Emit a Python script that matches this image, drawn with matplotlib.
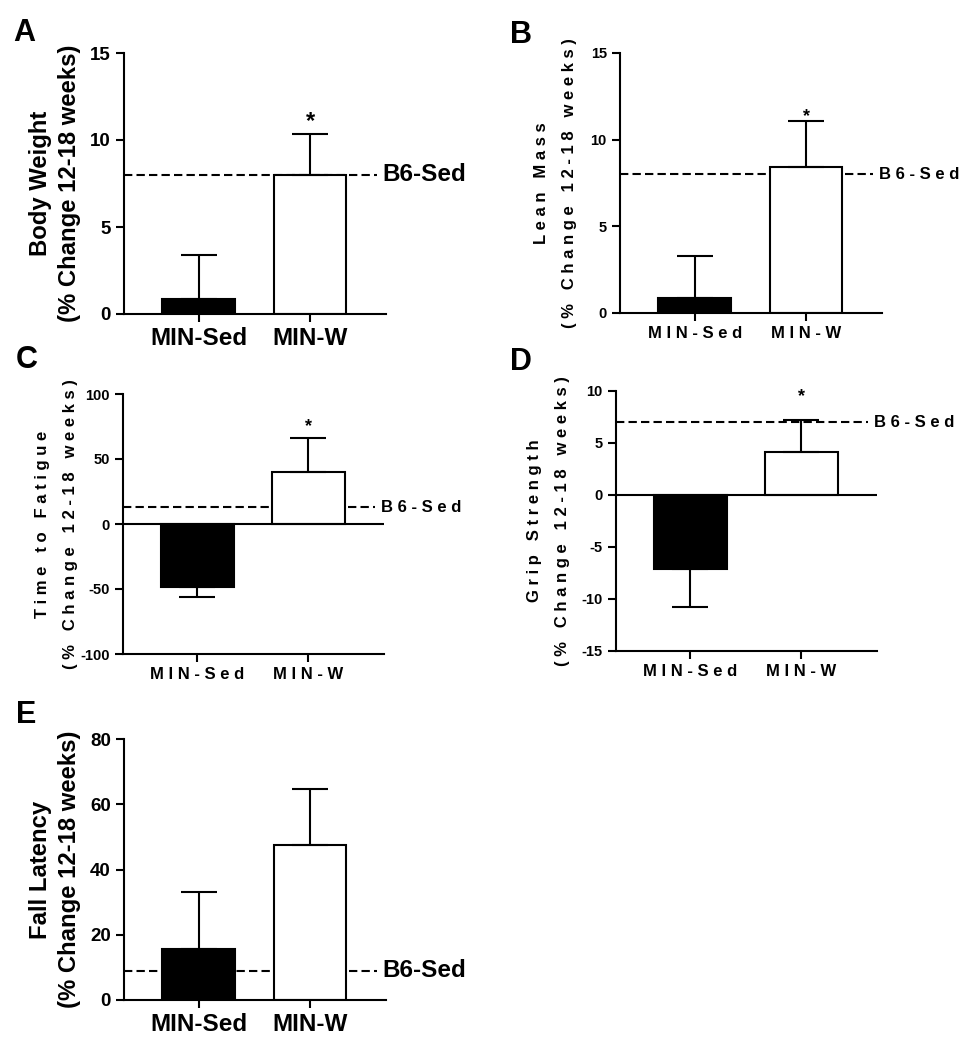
"""Figure 5 panneaux : variation (%) entre 12 et 18 semaines, MIN-Sed vs MIN-W."""

import matplotlib
matplotlib.use("Agg")
import matplotlib.pyplot as plt
import numpy as np

plt.rcParams["font.family"] = ["Liberation Sans", "DejaVu Sans"]
plt.rcParams["font.weight"] = "bold"
plt.rcParams["axes.labelweight"] = "bold"

# Données
groupes = ["MIN-Sed", "MIN-W"]

poids_moy = [0.86, 8.0]
poids_sem = [2.55, 2.35]

masse_maigre_moy = [0.87, 8.42]
masse_maigre_sem = [2.43, 2.68]

fatigue_moy = [-48.5, 40.0]
fatigue_sem = [7.5, 26.0]

prehension_moy = [-7.1, 4.1]
prehension_sem = [3.7, 3.1]

chute_moy = [15.6, 47.5]
chute_sem = [17.6, 17.2]

# Valeur de référence B6-Sed pour chaque panneau (A..E)
b6_sed = [8.0, 8.0, 13.0, 7.0, 9.0]

LARGEUR = 977
HAUTEUR = 1050


def espacer(texte):
    """Imite l'espacement large des lettres des panneaux B, C et D."""
    return " ".join(texte)


def tracer_panneau(fig, px, lettre, lettre_px, moy, sem, ref, ylim, yticks,
                   ylabel, etoile=None, espace=False, zero=False,
                   taille_x=17.5, taille_y=13.5, taille_label=17.2,
                   interligne=1.35, taille_etoile=17, decal_etoile=0,
                   label_x=-0.17):
    gauche, droite, haut, bas = px
    ax = fig.add_axes([gauche / LARGEUR, 1 - bas / HAUTEUR,
                       (droite - gauche) / LARGEUR, (bas - haut) / HAUTEUR])
    fmt = espacer if espace else (lambda t: t)

    x = np.arange(len(groupes))
    moy = np.array(moy)
    sem = np.array(sem)
    xlim = (-0.67, 1.68)

    # ligne de référence B6-Sed, sous les barres
    ax.plot([xlim[0], 1.6], [ref, ref], color="black", lw=1.5,
            ls=(0, (4, 2)), zorder=1, clip_on=False)
    ax.bar(x, moy, width=0.65, color=["black", "white"], edgecolor="black",
           linewidth=1.5, zorder=2)
    # erreur d'un seul côté, dans le sens de la barre
    bas_err = np.where(moy < 0, sem, 0)
    haut_err = np.where(moy >= 0, sem, 0)
    ax.errorbar(x, moy, yerr=[bas_err, haut_err], fmt="none", ecolor="black",
                elinewidth=1.5, capsize=13, capthick=1.5, zorder=3)
    if zero:
        ax.axhline(0, color="black", lw=1.5, zorder=3)

    ax.text(1.65, ref, fmt("B6-Sed"), ha="left", va="center",
            fontsize=taille_x, fontweight="bold", clip_on=False)

    if etoile is not None:
        ax.annotate("*", xy=(x[etoile], moy[etoile] + sem[etoile]),
                    xytext=(0, decal_etoile), textcoords="offset points",
                    ha="center", va="baseline", fontsize=taille_etoile,
                    fontweight="bold")

    ax.set_xlim(*xlim)
    ax.set_ylim(*ylim)
    ax.set_yticks(yticks)
    ax.set_yticklabels([str(v) for v in yticks], fontsize=taille_y,
                       fontweight="bold")
    ax.set_xticks(x)
    ax.set_xticklabels([fmt(g) for g in groupes], fontsize=taille_x,
                       fontweight="bold")

    l1, l2 = ylabel
    ax.set_ylabel(fmt(l1) + "\n" + fmt(l2), fontsize=taille_label,
                  fontweight="bold", linespacing=interligne)
    ax.yaxis.set_label_coords(label_x, 0.5)

    for cote in ["top", "right"]:
        ax.spines[cote].set_visible(False)
    for cote in ["left", "bottom"]:
        ax.spines[cote].set_linewidth(1.5)
    ax.tick_params(axis="both", direction="out", length=6, width=1.5,
                   colors="black")

    fig.text(lettre_px[0] / LARGEUR, 1 - lettre_px[1] / HAUTEUR, lettre,
             fontsize=22, fontweight="bold", ha="left", va="baseline")
    return ax


fig = plt.figure(figsize=(LARGEUR / 100, HAUTEUR / 100), dpi=100)
label_sec = "(% Change 12-18 weeks)"
style_espace = dict(espace=True, taille_x=12, taille_y=10.5, taille_label=12,
                    interligne=2.1, taille_etoile=13)

tracer_panneau(fig, (124, 386, 53, 314), "A", (13, 41), poids_moy, poids_sem,
               b6_sed[0], (0, 15), [0, 5, 10, 15], ("Body Weight", label_sec),
               etoile=1, decal_etoile=4, label_x=-0.164)

tracer_panneau(fig, (620, 882, 53, 313), "B", (510, 43), masse_maigre_moy,
               masse_maigre_sem, b6_sed[1], (0, 15), [0, 5, 10, 15],
               ("Lean Mass", label_sec), etoile=1, decal_etoile=0,
               label_x=-0.164, **style_espace)

tracer_panneau(fig, (123, 384, 394, 654), "C", (16, 368), fatigue_moy,
               fatigue_sem, b6_sed[2], (-100, 100), [-100, -50, 0, 50, 100],
               ("Time to Fatigue", label_sec), etoile=1, zero=True,
               decal_etoile=5, label_x=-0.172, **style_espace)

tracer_panneau(fig, (616, 877, 391, 651), "D", (510, 370), prehension_moy,
               prehension_sem, b6_sed[3], (-15, 10), [-15, -10, -5, 0, 5, 10],
               ("Grip Strength", label_sec), etoile=1, zero=True,
               decal_etoile=14, label_x=-0.176, **style_espace)

tracer_panneau(fig, (124, 386, 739, 1000), "E", (16, 723), chute_moy,
               chute_sem, b6_sed[4], (0, 80), [0, 20, 40, 60, 80],
               ("Fall Latency", label_sec), label_x=-0.164)

fig.savefig("out.png", dpi=100, facecolor="white")
